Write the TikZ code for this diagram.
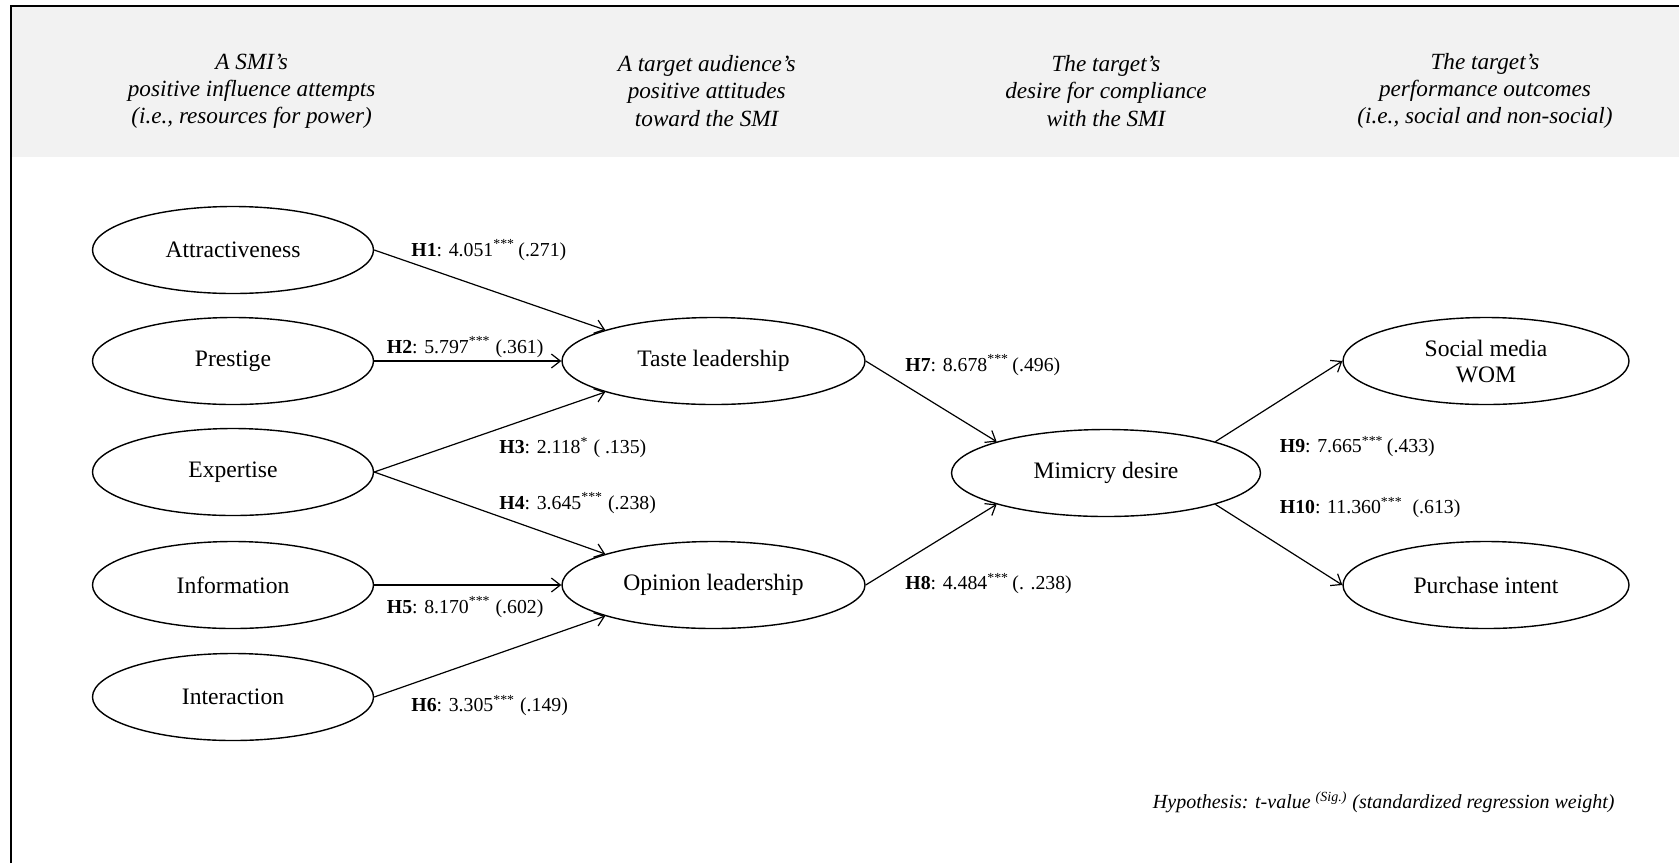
\documentclass[tikz,border=0pt]{standalone}
\usepackage{fontspec}
\setmainfont{Liberation Serif}
\usetikzlibrary{shapes.geometric,arrows.meta}
\definecolor{hdrgray}{HTML}{F2F2F2}
\begin{document}
\begin{tikzpicture}[x=0.5pt,y=-0.5pt,
  elli/.style={draw,ellipse,line width=0.7pt,inner sep=0pt,minimum height=43.5pt,align=center,font=\fontsize{11.8}{13}\selectfont},
  hdr/.style={align=center,inner sep=0pt,font=\fontsize{11.6}{13.6}\selectfont\itshape},
  lbl/.style={anchor=west,inner sep=0pt,text height=7pt,text depth=2pt,font=\fontsize{9.9}{12}\selectfont},
  arr/.style={-{Straight Barb[length=4.5pt,width=7pt]},line width=0.6pt}]
\useasboundingbox (0,0) rectangle (1679,863);
\fill[hdrgray] (11,7) rectangle (1679,157);
\draw[line width=1pt] (10.5,863) -- (10.5,6) -- (1679,6);

\node[hdr] (h1) at (251.6,91) {A SMI's\\positive influence attempts\\(i.e., resources for power)};
\node[hdr] (h2) at (706.7,91) {A target audience's\\positive attitudes\\toward the SMI};
\node[hdr] (h3) at (1106,91) {The target's\\desire for compliance\\with the SMI};
\node[hdr] (h4) at (1485,91) {The target's\\performance outcomes\\(i.e., social and non-social)};

\node[elli,minimum width=140.5pt] (attr) at (233,250) {Attractiveness};
\node[elli,minimum width=140.5pt] (prest) at (233,361) {Prestige};
\node[elli,minimum width=140.5pt] (expert) at (233,472) {Expertise};
\node[elli,minimum width=140.5pt] (info) at (233,585) {Information};
\node[elli,minimum width=140.5pt] (inter) at (233,697) {Interaction};
\node[elli,minimum width=151.5pt] (taste) at (713.5,361) {Taste leadership};
\node[elli,minimum width=151.5pt] (opinion) at (713.5,585) {Opinion leadership};
\node[elli,minimum width=154.5pt] (mimic) at (1106,473) {Mimicry desire};
\node[elli,minimum width=143pt] (wom) at (1486,361) {Social media\\WOM};
\node[elli,minimum width=143pt] (purch) at (1486,585) {Purchase intent};

\draw[arr] (attr.east) -- (taste.164);
\draw[arr] (prest.east) -- (taste.west);
\draw[arr] (expert.east) -- (taste.196);
\draw[arr] (expert.east) -- (opinion.164);
\draw[arr] (info.east) -- (opinion.west);
\draw[arr] (inter.east) -- (opinion.196);
\draw[arr] (taste.east) -- (mimic.164);
\draw[arr] (opinion.east) -- (mimic.196);
\draw[arr] (mimic.16) -- (wom.west);
\draw[arr] (mimic.344) -- (purch.west);

\node[lbl] (l1) at (411,251) {\textbf{H1}: 4.051\textsuperscript{***}\thinspace(.271)};
\node[lbl] (l2) at (386.5,348) {\textbf{H2}: 5.797\textsuperscript{***} (.361)};
\node[lbl] (l3) at (499,448.5) {\textbf{H3}: 2.118\textsuperscript{*} ( .135)};
\node[lbl] (l4) at (499,504) {\textbf{H4}: 3.645\textsuperscript{***} (.238)};
\node[lbl] (l5) at (386.5,608) {\textbf{H5}: 8.170\textsuperscript{***} (.602)};
\node[lbl] (l6) at (411,706.5) {\textbf{H6}: 3.305\textsuperscript{***} (.149)};
\node[lbl] (l7) at (905,366) {\textbf{H7}: 8.678\textsuperscript{***}\thinspace(.496)};
\node[lbl] (l8) at (905,584.5) {\textbf{H8}: 4.484\textsuperscript{***}\thinspace(. .238)};
\node[lbl] (l9) at (1279.5,447.5) {\textbf{H9}: 7.665\textsuperscript{***}\thinspace(.433)};
\node[lbl] (l10) at (1279.5,508.5) {\textbf{H10}: 11.360\textsuperscript{***}\enspace(.613)};

\node[anchor=east,inner sep=0pt,font=\fontsize{10}{12}\selectfont\itshape] (note) at (1615,802) {Hypothesis: t-value \textsuperscript{(Sig.)} (standardized regression weight)};
\end{tikzpicture}
\end{document}
